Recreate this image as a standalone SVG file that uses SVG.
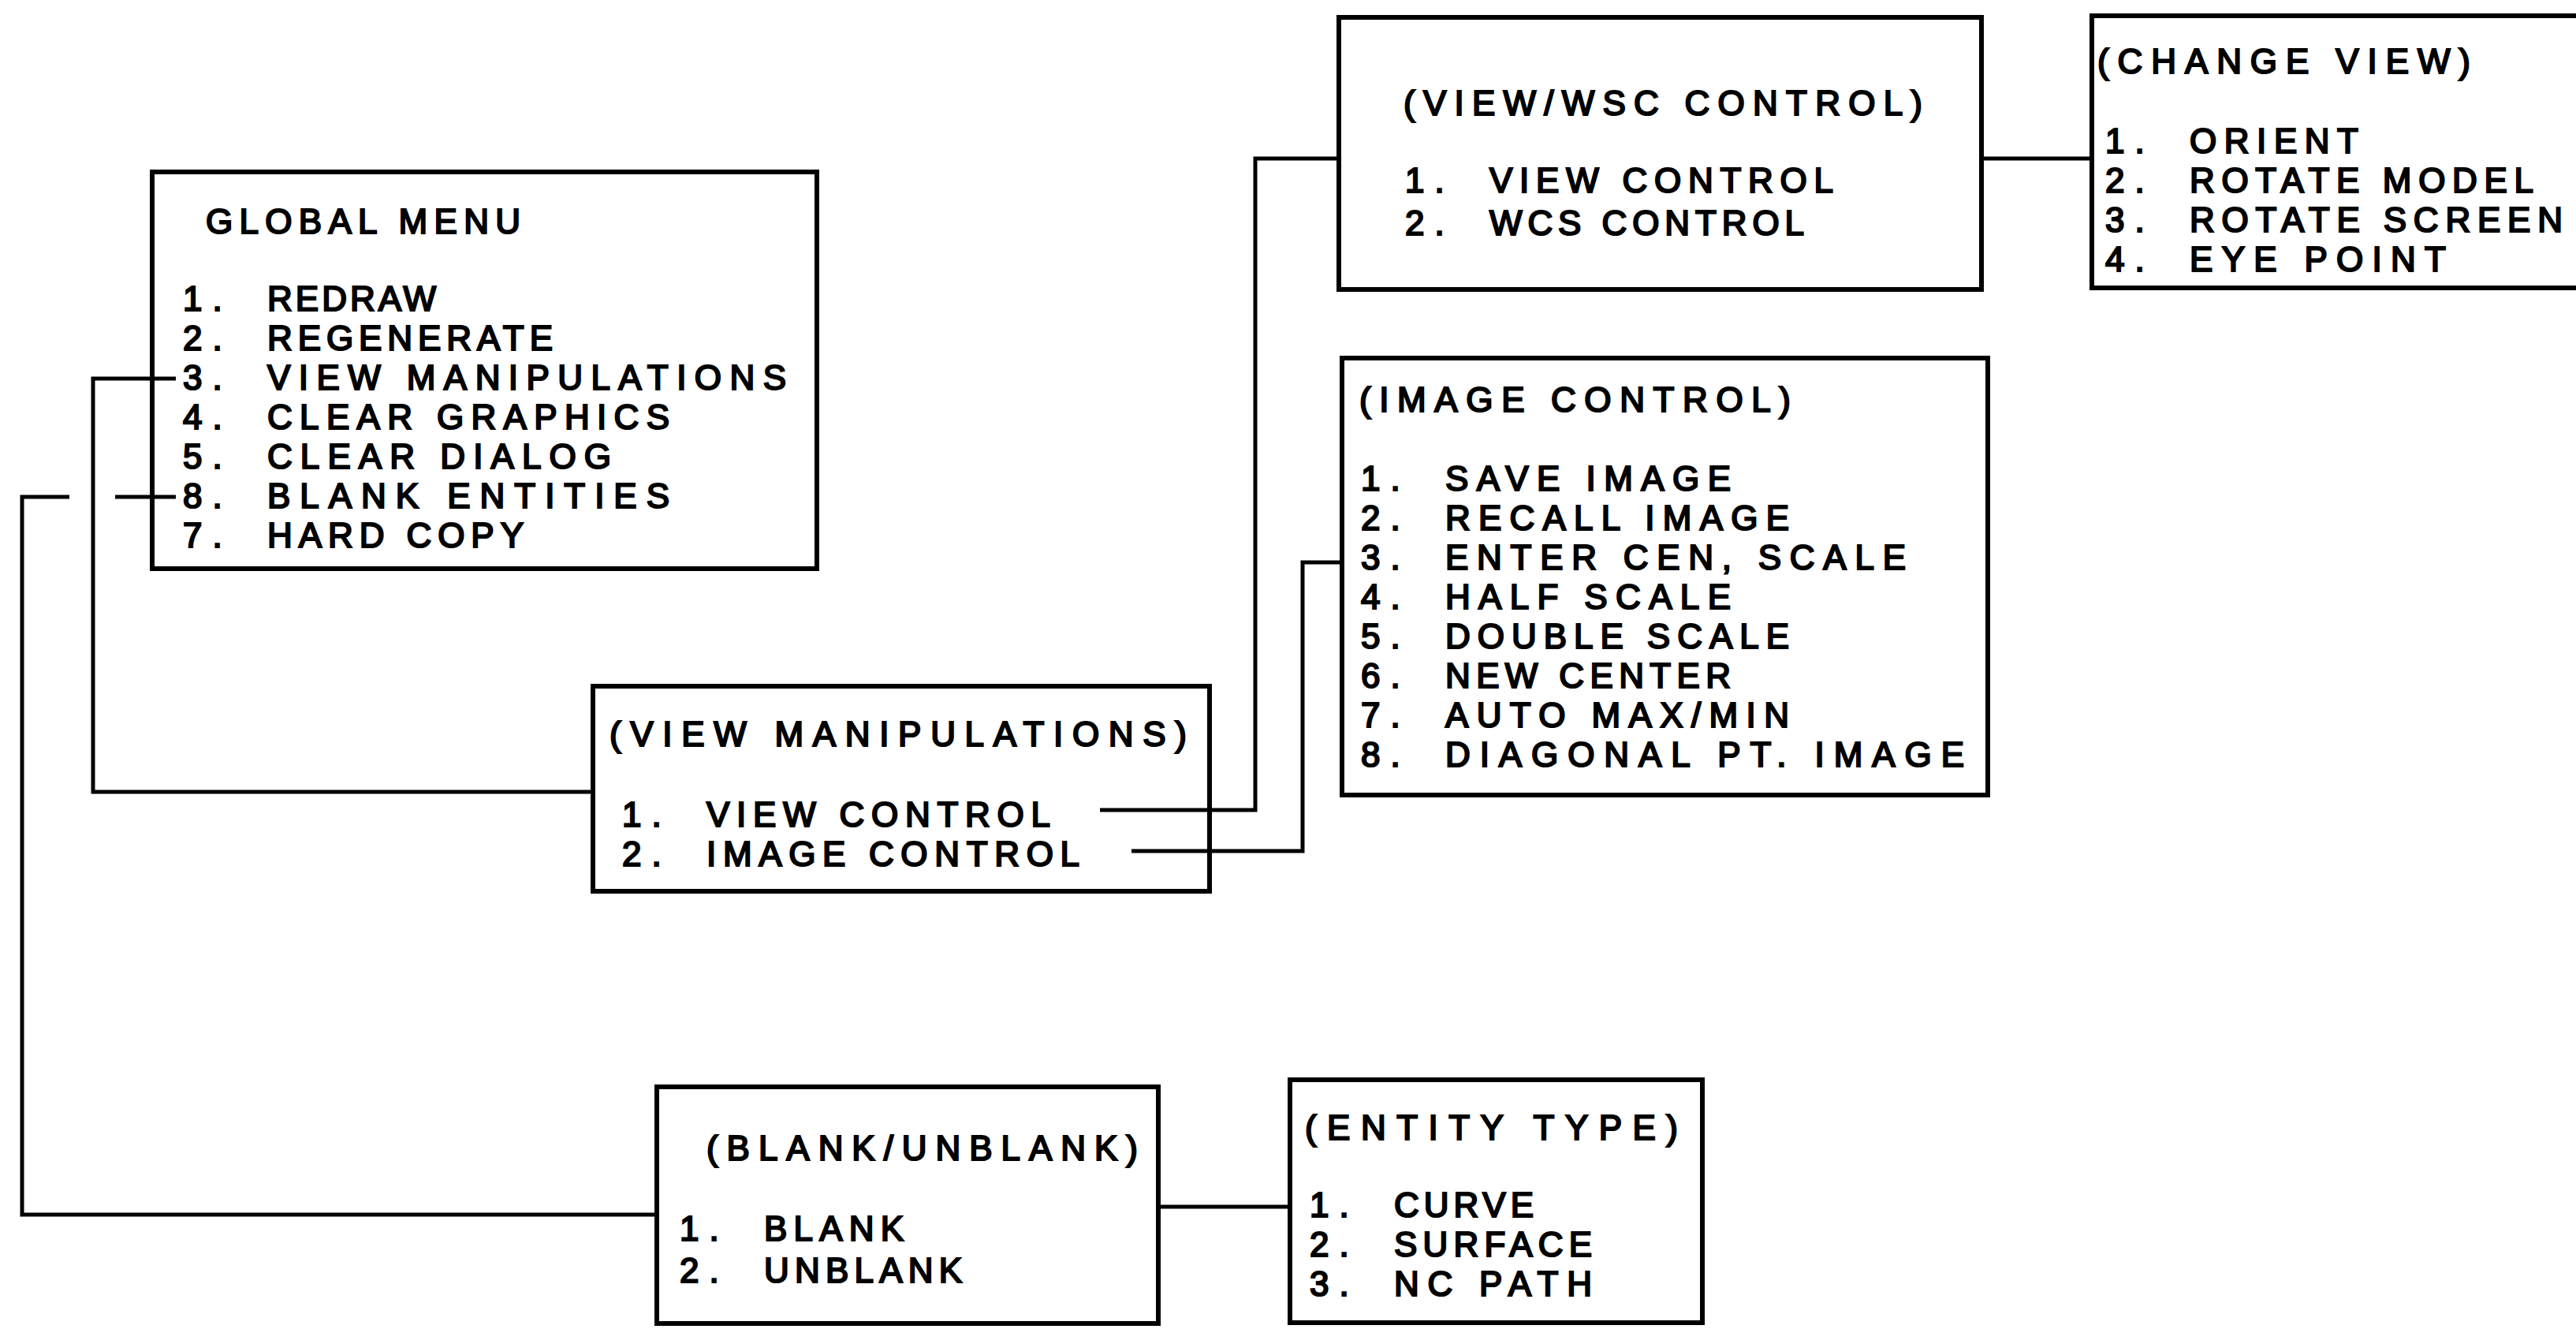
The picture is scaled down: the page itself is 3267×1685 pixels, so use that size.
<svg xmlns="http://www.w3.org/2000/svg" width="3267" height="1685" viewBox="0 0 3267 1685">
<style>
.box{fill:none;stroke:#000;stroke-width:6}
.wire{fill:none;stroke:#000;stroke-width:5;stroke-linejoin:miter}
text{font-family:"Liberation Sans",Arial,sans-serif;font-size:44px;fill:#000;stroke:#000;stroke-width:2.2;white-space:pre}
.n{letter-spacing:13px}
</style>
<rect width="3267" height="1685" fill="#fff"/>
<g id="connectors">
<path class="wire" d="M223,480 H118 V1004 H752"/>
<path class="wire" d="M223,630 H146"/>
<path class="wire" d="M88,630 H28 V1540 H833"/>
<path class="wire" d="M1395,1027 H1592 V201 H1698"/>
<path class="wire" d="M1435,1079 H1652 V713 H1702"/>
<path class="wire" d="M2513,201 H2653"/>
<path class="wire" d="M1469,1530 H1636"/>
</g>
<g id="global-menu">
<rect class="box" x="193" y="218" width="843" height="503"/>
<text x="261" y="296" textLength="399">GLOBAL MENU</text>
<text class="n" x="232" y="394">1.</text><text x="339" y="394" textLength="214">REDRAW</text>
<text class="n" x="232" y="444">2.</text><text x="339" y="444" textLength="362">REGENERATE</text>
<text class="n" x="232" y="494">3.</text><text x="339" y="494" textLength="658">VIEW MANIPULATIONS</text>
<text class="n" x="232" y="544">4.</text><text x="339" y="544" textLength="510">CLEAR GRAPHICS</text>
<text class="n" x="232" y="594">5.</text><text x="339" y="594" textLength="436">CLEAR DIALOG</text>
<text class="n" x="232" y="644">8.</text><text x="339" y="644" textLength="510">BLANK ENTITIES</text>
<text class="n" x="232" y="694">7.</text><text x="339" y="694" textLength="325">HARD COPY</text>
</g>
<g id="view-manipulations">
<rect class="box" x="752" y="870" width="782" height="260"/>
<text x="773" y="946" textLength="732">(VIEW MANIPULATIONS)</text>
<text class="n" x="789" y="1048">1.</text><text x="896" y="1048" textLength="436">VIEW CONTROL</text>
<text class="n" x="789" y="1098">2.</text><text x="896" y="1098" textLength="473">IMAGE CONTROL</text>
</g>
<g id="view-wsc-control">
<rect class="box" x="1698" y="22" width="815" height="345"/>
<text x="1780" y="146" textLength="658">(VIEW/WSC CONTROL)</text>
<text class="n" x="1782" y="244">1.</text><text x="1889" y="244" textLength="436">VIEW CONTROL</text>
<text class="n" x="1782" y="298">2.</text><text x="1889" y="298" textLength="399">WCS CONTROL</text>
</g>
<g id="change-view">
<rect class="box" x="2653" y="20" width="700" height="345"/>
<text x="2660" y="93" textLength="473">(CHANGE VIEW)</text>
<text class="n" x="2670" y="194">1.</text><text x="2777" y="194" textLength="214">ORIENT</text>
<text class="n" x="2670" y="244">2.</text><text x="2777" y="244" textLength="436">ROTATE MODEL</text>
<text class="n" x="2670" y="294">3.</text><text x="2777" y="294" textLength="473">ROTATE SCREEN</text>
<text class="n" x="2670" y="344">4.</text><text x="2777" y="344" textLength="325">EYE POINT</text>
</g>
<g id="image-control">
<rect class="box" x="1702" y="454" width="819" height="554"/>
<text x="1724" y="522" textLength="547">(IMAGE CONTROL)</text>
<text class="n" x="1726" y="622">1.</text><text x="1833" y="622" textLength="362">SAVE IMAGE</text>
<text class="n" x="1726" y="672">2.</text><text x="1833" y="672" textLength="436">RECALL IMAGE</text>
<text class="n" x="1726" y="722">3.</text><text x="1833" y="722" textLength="584">ENTER CEN, SCALE</text>
<text class="n" x="1726" y="772">4.</text><text x="1833" y="772" textLength="362">HALF SCALE</text>
<text class="n" x="1726" y="822">5.</text><text x="1833" y="822" textLength="436">DOUBLE SCALE</text>
<text class="n" x="1726" y="872">6.</text><text x="1833" y="872" textLength="362">NEW CENTER</text>
<text class="n" x="1726" y="922">7.</text><text x="1833" y="922" textLength="436">AUTO MAX/MIN</text>
<text class="n" x="1726" y="972">8.</text><text x="1833" y="972" textLength="658">DIAGONAL PT. IMAGE</text>
</g>
<g id="blank-unblank">
<rect class="box" x="833" y="1378" width="636" height="300"/>
<text x="896" y="1471" textLength="547">(BLANK/UNBLANK)</text>
<text class="n" x="862" y="1573">1.</text><text x="969" y="1573" textLength="177">BLANK</text>
<text class="n" x="862" y="1626">2.</text><text x="969" y="1626" textLength="251">UNBLANK</text>
</g>
<g id="entity-type">
<rect class="box" x="1636" y="1369" width="523" height="308"/>
<text x="1655" y="1445" textLength="473">(ENTITY TYPE)</text>
<text class="n" x="1661" y="1543">1.</text><text x="1768" y="1543" textLength="177">CURVE</text>
<text class="n" x="1661" y="1593">2.</text><text x="1768" y="1593" textLength="251">SURFACE</text>
<text class="n" x="1661" y="1643">3.</text><text x="1768" y="1643" textLength="251">NC PATH</text>
</g>
</svg>
